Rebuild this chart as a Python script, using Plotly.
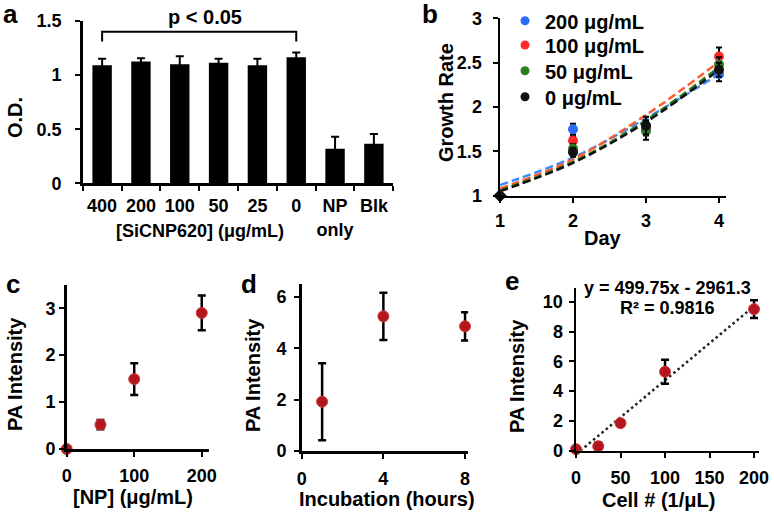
import plotly.graph_objects as go

W, H = 774, 513
FONT = "Liberation Sans, Arial, sans-serif"

# ---------- data ----------
# panel a
a_cats = ["400", "200", "100", "50", "25", "0", "NP<br>only", "Blk"]
a_vals = [1.09, 1.125, 1.10, 1.115, 1.09, 1.165, 0.32, 0.365]
a_err = [0.06, 0.03, 0.075, 0.035, 0.06, 0.045, 0.11, 0.09]
a_bracket_x = ["400", "400", "0", "0"]
a_bracket_y = [1.31, 1.40, 1.40, 1.31]

# panel b
b_days = [1, 2, 3, 4]
b_names = ["200 μg/mL", "100 μg/mL", "50 μg/mL", "0 μg/mL"]
b_vals = [
    [1.0, 1.75, 1.77, 2.37],
    [1.0, 1.62, 1.76, 2.57],
    [1.0, 1.53, 1.73, 2.48],
    [1.0, 1.49, 1.79, 2.42],
]
b_err = [
    [0.0, 0.06, 0.08, 0.08],
    [0.0, 0.05, 0.08, 0.10],
    [0.0, 0.05, 0.10, 0.08],
    [0.0, 0.05, 0.10, 0.08],
]
b_trend = [
    [1.12, 1.43, 1.87, 2.37],
    [1.08, 1.41, 1.91, 2.51],
    [1.06, 1.38, 1.85, 2.45],
    [1.05, 1.37, 1.83, 2.42],
]
b_marker_colors = ["#2a6cf5", "#ff2b2b", "#2e7d22", "#111111"]
b_line_colors = ["#3b8cff", "#ff5a2a", "#2e7d22", "#111111"]

# panel c
c_x = [0, 50, 100, 200]
c_y = [0.0, 0.52, 1.49, 2.90]
c_err = [0.03, 0.10, 0.34, 0.37]

# panel d
d_x = [1, 4, 8]
d_y = [1.92, 5.25, 4.86]
d_err = [1.50, 0.92, 0.55]

# panel e
e_x = [0, 25, 50, 100, 200]
e_y = [0.10, 0.30, 1.85, 5.30, 9.50]
e_err = [0.05, 0.25, 0.20, 0.80, 0.60]
e_trend_x = [5, 200]
e_trend_y = [0.0, 9.7]
e_eq = "y = 499.75x - 2961.3"
e_r2 = "R² = 0.9816"

RED = "#b3161c"

def xd(p0, p1):
    return [p0 / W, p1 / W]

def yd(top, bottom):
    return [1 - bottom / H, 1 - top / H]

fig = go.Figure()

# ----- panel a -----
fig.add_trace(go.Bar(x=a_cats, y=a_vals, marker=dict(color="black", line=dict(width=0)),
                     width=0.5,
                     error_y=dict(type="data", array=a_err, color="black", thickness=2, width=4),
                     xaxis="x", yaxis="y", showlegend=False))
fig.add_trace(go.Scatter(x=a_bracket_x, y=a_bracket_y, mode="lines",
                         line=dict(color="black", width=2), xaxis="x", yaxis="y",
                         showlegend=False, cliponaxis=False))

# ----- panel b -----
for i in range(4):
    fig.add_trace(go.Scatter(x=b_days, y=b_trend[i], mode="lines",
                             line=dict(color=b_line_colors[i], width=2.5, dash="8px,4px", shape="spline"),
                             xaxis="x2", yaxis="y2", showlegend=False, cliponaxis=False))
for i in range(4):
    fig.add_trace(go.Scatter(x=b_days, y=b_vals[i], mode="markers", name=b_names[i],
                             marker=dict(color=b_marker_colors[i], size=10,
                                         symbol=["diamond", "circle", "circle", "circle"]),
                             error_y=dict(type="data", array=b_err[i], color="black", thickness=2, width=3),
                             xaxis="x2", yaxis="y2", showlegend=False, cliponaxis=False))
# legend entries (one legend per row, for exact row placement)
legend_ids = ["legend", "legend2", "legend3", "legend4"]
for i in range(4):
    fig.add_trace(go.Scatter(x=[None], y=[None], mode="markers", name=b_names[i],
                             marker=dict(color=b_marker_colors[i], size=9, symbol="circle"),
                             xaxis="x2", yaxis="y2", showlegend=True, legend=legend_ids[i]))

# ----- panel c -----
fig.add_trace(go.Scatter(x=c_x, y=c_y, mode="markers",
                         marker=dict(color=RED, size=11, line=dict(color="#d23a3a", width=1)),
                         error_y=dict(type="data", array=c_err, color="black", thickness=2.5, width=4),
                         xaxis="x3", yaxis="y3", showlegend=False, cliponaxis=False))
# ----- panel d -----
fig.add_trace(go.Scatter(x=d_x, y=d_y, mode="markers",
                         marker=dict(color=RED, size=11, line=dict(color="#d23a3a", width=1)),
                         error_y=dict(type="data", array=d_err, color="black", thickness=2.5, width=4),
                         xaxis="x4", yaxis="y4", showlegend=False, cliponaxis=False))
# ----- panel e -----
fig.add_trace(go.Scatter(x=e_trend_x, y=e_trend_y, mode="lines",
                         line=dict(color="#222222", width=2.5, dash="2.5px,3px"),
                         xaxis="x5", yaxis="y5", showlegend=False, cliponaxis=False))
fig.add_trace(go.Scatter(x=e_x, y=e_y, mode="markers",
                         marker=dict(color=RED, size=11, line=dict(color="#d23a3a", width=1)),
                         error_y=dict(type="data", array=e_err, color="black", thickness=2.5, width=4),
                         xaxis="x5", yaxis="y5", showlegend=False, cliponaxis=False))

axis_common = dict(showline=True, linecolor="black", linewidth=2.5, ticks="outside",
                   ticklen=5, tickwidth=2, tickcolor="black", showgrid=False, zeroline=False,
                   tickangle=0, automargin=False,
                   tickfont=dict(family=FONT, size=18, color="black", weight="bold"), fixedrange=True)

legend_rows_y = [20.7, 45.0, 70.7, 96.7]
legend_common = dict(xanchor="left", yanchor="middle", bgcolor="rgba(0,0,0,0)",
                     font=dict(family=FONT, size=20, color="black", weight="bold"),
                     borderwidth=0, itemsizing="trace")
legends = {}
for i, lid in enumerate(legend_ids):
    legends[lid] = dict(x=505 / W, y=1 - legend_rows_y[i] / H, **legend_common)

fig.update_layout(
    width=W, height=H, margin=dict(l=0, r=0, t=0, b=0, pad=0, autoexpand=False),
    paper_bgcolor="white", plot_bgcolor="white",
    font=dict(family=FONT, size=18, color="black", weight="bold"),
    xaxis=dict(domain=xd(82.7, 393.3), anchor="y", type="category", tickson="boundaries",
               range=[-0.5, 7.5], ticklabelstandoff=5, **axis_common),
    yaxis=dict(domain=yd(21, 183.3), anchor="x", range=[0, 1.5], dtick=0.5,
               ticklabelstandoff=10, **axis_common),
    xaxis2=dict(domain=xd(500, 726.3), anchor="y2", range=[1, 4.1], dtick=1,
                ticklabelstandoff=2, **axis_common),
    yaxis2=dict(domain=yd(18.3, 195.7), anchor="x2", range=[1, 3], dtick=0.5,
                ticklabelstandoff=7, **axis_common),
    xaxis3=dict(domain=xd(66.7, 208.5), anchor="y3", range=[0, 210], dtick=100,
                ticklabelstandoff=4, **axis_common),
    yaxis3=dict(domain=yd(284.8, 449), anchor="x3", range=[0, 3.5], dtick=1, **axis_common),
    xaxis4=dict(domain=xd(301.7, 468.1), anchor="y4", range=[0, 8.15], dtick=4,
                ticklabelstandoff=5, **axis_common),
    yaxis4=dict(domain=yd(284.2, 451), anchor="x4", range=[0, 6.5], dtick=2,
                ticklabelstandoff=4, **axis_common),
    xaxis5=dict(domain=xd(576, 758.5), anchor="y5", range=[0, 205], dtick=50,
                ticklabelstandoff=4, **axis_common),
    yaxis5=dict(domain=yd(288.3, 450.7), anchor="x5", range=[0, 10.9], dtick=2,
                ticklabelstandoff=2, **axis_common),
    showlegend=True,
    **legends,
)

def ann(text, x, y, size=20, angle=0):
    fig.add_annotation(text=text, x=x / W, y=1 - y / H, xref="paper", yref="paper",
                       showarrow=False, textangle=angle, xanchor="center", yanchor="middle",
                       font=dict(family=FONT, size=size, color="black", weight="bold"))

# panel letters
ann("a", 10, 14, 26)
ann("b", 430, 14, 26)
ann("c", 13, 284, 26)
ann("d", 249, 284, 26)
ann("e", 512, 281, 26)

# axis titles
ann("O.D.", 15, 118, 20, -90)
ann("[SiCNP620] (μg/mL)", 200, 231, 18)
ann("p < 0.05", 205, 17, 20)
ann("Growth Rate", 446, 103, 20, -90)
ann("Day", 603, 238, 20)
ann("PA Intensity", 15, 374, 20, -90)
ann("[NP] (μg/mL)", 133, 497, 20)
ann("PA Intensity", 253, 375, 20, -90)
ann("Incubation (hours)", 387, 499, 20)
ann("PA Intensity", 517, 376, 20, -90)
ann("Cell # (1/μL)", 658, 500, 20)
ann(e_eq, 667, 288, 18)
ann(e_r2, 667, 308, 18)

fig.write_html("out.html", config=dict(displayModeBar=False, staticPlot=True),
               post_script="document.body.style.margin='0';document.body.style.overflow='hidden';")
